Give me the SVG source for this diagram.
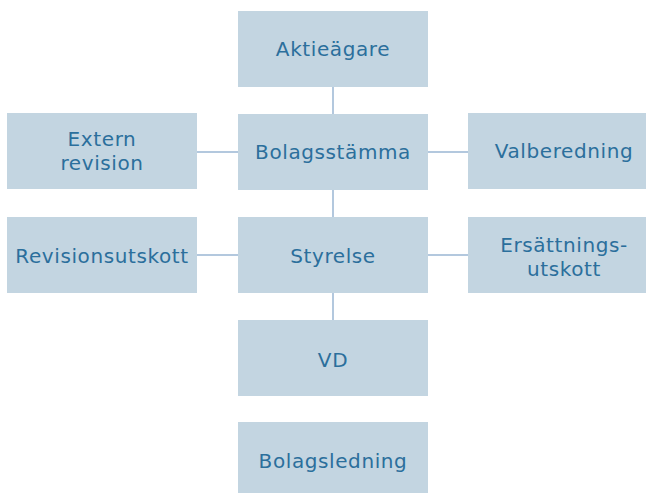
<svg xmlns="http://www.w3.org/2000/svg" width="646" height="493" viewBox="0 0 646 493">
<style>
.box{fill:#c3d5e1}
.t{font-family:"DejaVu Sans","Noto Sans",sans-serif;font-size:20px;letter-spacing:0.6px;fill:#2b6f9c;text-anchor:middle;dominant-baseline:central}
.ln{stroke:#9ab6d3;stroke-width:1.5;fill:none}
</style>
<rect width="646" height="493" fill="#ffffff"/>
<g id="connectors">
<line class="ln" x1="333" y1="87" x2="333" y2="114"/>
<line class="ln" x1="333" y1="190" x2="333" y2="217"/>
<line class="ln" x1="333" y1="293" x2="333" y2="320"/>
<line class="ln" x1="197" y1="152" x2="238" y2="152"/>
<line class="ln" x1="428" y1="152" x2="468" y2="152"/>
<line class="ln" x1="197" y1="255" x2="238" y2="255"/>
<line class="ln" x1="428" y1="255" x2="468" y2="255"/>
</g>
<g id="aktieagare"><rect class="box" x="238" y="11" width="190" height="76"/><text class="t" x="333" y="49">Aktieägare</text></g>
<g id="bolagsstamma"><rect class="box" x="238" y="114" width="190" height="76"/><text class="t" x="333" y="152">Bolagsstämma</text></g>
<g id="styrelse"><rect class="box" x="238" y="217" width="190" height="76"/><text class="t" x="333" y="256">Styrelse</text></g>
<g id="vd"><rect class="box" x="238" y="320" width="190" height="76"/><text class="t" x="333" y="360">VD</text></g>
<g id="bolagsledning"><rect class="box" x="238" y="422" width="190" height="71"/><text class="t" x="333" y="461">Bolagsledning</text></g>
<g id="extern-revision"><rect class="box" x="7" y="113" width="190" height="76"/><text class="t" x="102" y="139">Extern</text><text class="t" x="102" y="163">revision</text></g>
<g id="revisionsutskott"><rect class="box" x="7" y="217" width="190" height="76"/><text class="t" x="102" y="256">Revisionsutskott</text></g>
<g id="valberedning"><rect class="box" x="468" y="113" width="178" height="76"/><text class="t" x="564" y="151">Valberedning</text></g>
<g id="ersattningsutskott"><rect class="box" x="468" y="217" width="178" height="76"/><text class="t" x="564" y="245">Ersättnings-</text><text class="t" x="564" y="269">utskott</text></g>
</svg>
